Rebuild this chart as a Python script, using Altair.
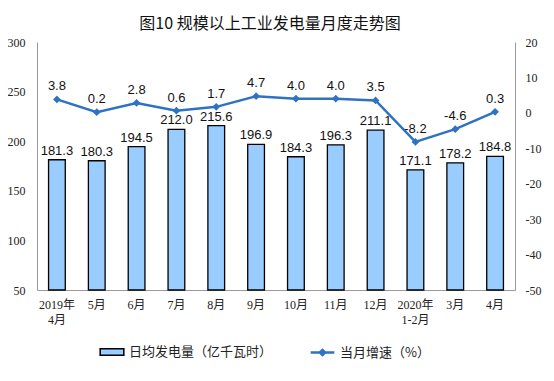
import altair as alt
import pandas as pd

categories = ["2019年|4月", "5月", "6月", "7月", "8月", "9月", "10月", "11月", "12月",
              "2020年|1-2月", "3月", "4月"]
power = [181.3, 180.3, 194.5, 212.0, 215.6, 196.9, 184.3, 196.3, 211.1, 171.1, 178.2, 184.8]
growth = [3.8, 0.2, 2.8, 0.6, 1.7, 4.7, 4.0, 4.0, 3.5, -8.2, -4.6, 0.3]

bar_name = "日均发电量（亿千瓦时）"
line_name = "当月增速（%）"
left_ticks = [50, 100, 150, 200, 250, 300]
right_ticks = [-50, -40, -30, -20, -10, 0, 10, 20]

df = pd.DataFrame({"cat": categories, "power": power, "growth": growth,
                   "s1": bar_name, "s2": line_name})

BLUE = "#2E72C4"
SERIF = "Liberation Serif, Noto Sans CJK SC"
SANS = "Liberation Sans, Noto Sans CJK SC"

xenc = alt.X("cat:N", sort=categories, title=None,
             scale=alt.Scale(paddingInner=0.58, paddingOuter=0.29),
             axis=alt.Axis(labelExpr="split(datum.label, '|')", labelAngle=0,
                           labelFont=SERIF, labelFontSize=12, labelColor="#222",
                           labelPadding=9, labelLineHeight=15,
                           domainColor="#9a9a9a", ticks=False))

yleft = alt.Y("power:Q", scale=alt.Scale(domain=[50, 300], zero=False, nice=False),
              title=None,
              axis=alt.Axis(orient="left", values=left_ticks, grid=False, ticks=False,
                            domainColor="#9a9a9a", labelFont=SERIF, labelFontSize=12,
                            labelColor="#222", labelPadding=12))

yright = alt.Y("growth:Q", scale=alt.Scale(domain=[-50, 20], nice=False, zero=False),
               title=None,
               axis=alt.Axis(orient="right", values=right_ticks, grid=False, ticks=False,
                             domainColor="#9a9a9a", labelFont=SERIF, labelFontSize=12,
                             labelColor="#222", labelPadding=10,
                             labelExpr="datum.value + ''"))

base = alt.Chart(df).transform_calculate(
    plabel="replace(format(datum.power, '.1f'), '\u2212', '-')",
    glabel="replace(format(datum.growth, '.1f'), '\u2212', '-')",
)

bars = base.mark_bar(stroke="black", strokeWidth=1.3).encode(
    x=xenc, y=yleft, y2=alt.datum(50),
    fill=alt.Fill("s1:N", title=None,
                  scale=alt.Scale(domain=[bar_name], range=["#99CCFF"]),
                  legend=alt.Legend(orient="none", legendX=62, legendY=297,
                                    symbolType="M-1,-0.28H1V0.28H-1Z", symbolSize=560,
                                    symbolStrokeColor="black", symbolStrokeWidth=1.5,
                                    labelFont="Noto Sans CJK SC", labelFontSize=13,
                                    labelColor="#222", labelOffset=4, padding=0)))

bartext = base.mark_text(dy=-9, font=SANS, fontSize=13, color="#111").encode(
    x=xenc, y=yleft, text="plabel:N")

line = base.mark_line(strokeWidth=2.5).encode(
    x=xenc, y=yright,
    stroke=alt.Stroke("s2:N", title=None,
                      scale=alt.Scale(domain=[line_name], range=[BLUE]),
                      legend=alt.Legend(orient="none", legendX=272, legendY=297,
                                        symbolType="M-1,0H1M-0.22,0L0,-0.22L0.22,0L0,0.22Z",
                                        symbolSize=560, symbolStrokeWidth=2.5,
                                        symbolFillColor=BLUE, symbolStrokeColor=BLUE,
                                        labelFont="Noto Sans CJK SC", labelFontSize=13,
                                        labelColor="#222", labelOffset=4, padding=0)))

pts = base.mark_point(shape="diamond", filled=True, size=60, color=BLUE,
                      opacity=1).encode(x=xenc, y=yright)

linetext = base.mark_text(dy=-13, font=SANS, fontSize=13, color="#111").encode(
    x=xenc, y=yright, text="glabel:N")

left = alt.layer(bars, bartext)
right = alt.layer(line, pts, linetext)

chart = alt.layer(left, right).resolve_scale(y="independent").properties(
    width=478, height=248,
    autosize=alt.AutoSizeParams(type="none"),
    padding={"left": 29, "top": 34, "right": 31, "bottom": 83},
    title=alt.TitleParams("图10 规模以上工业发电量月度走势图", font="Noto Sans CJK SC",
                          fontSize=16, fontWeight="normal", color="#111",
                          anchor="middle", dx=-6, offset=4),
).configure_view(stroke=None)

chart.save("out.html", embed_options={"renderer": "svg", "actions": False})
